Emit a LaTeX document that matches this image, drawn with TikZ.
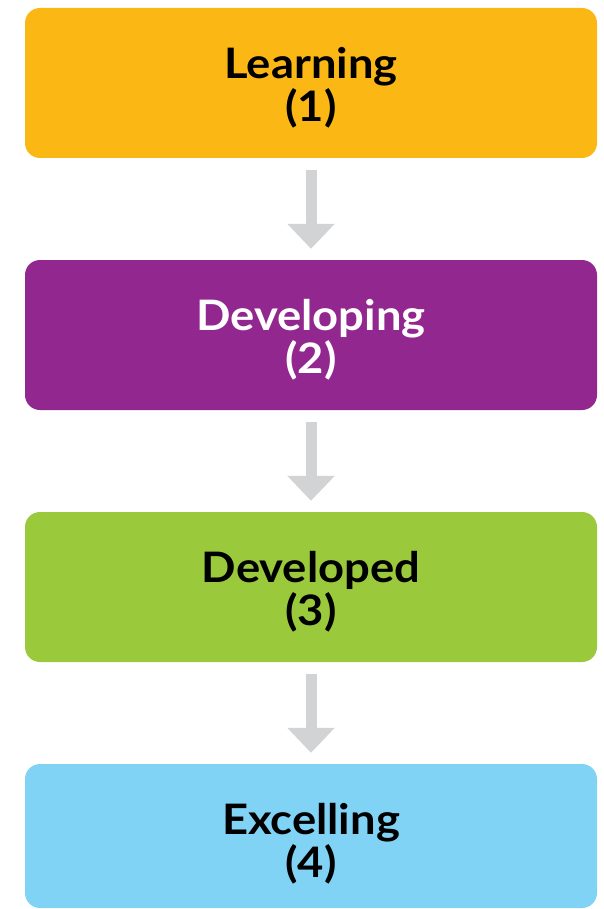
\documentclass[tikz,border=0pt]{standalone}
\usepackage{fontspec}
\setmainfont{Lato}[FakeStretch=1.08]
\usetikzlibrary{arrows.meta}
\definecolor{cyellow}{HTML}{FBB814}
\definecolor{cpurple}{HTML}{92278F}
\definecolor{cgreen}{HTML}{9BC93C}
\definecolor{cblue}{HTML}{81D3F6}
\definecolor{carrow}{HTML}{D1D3D4}
\begin{document}
\begin{tikzpicture}[x=1pt,y=-1pt,
  stage/.style={rectangle, rounded corners=15pt, minimum width=572pt, minimum height=150pt,
    inner sep=0pt},
  stagetext/.style={inner sep=0pt, align=center, yshift=-4.5pt,
    font=\fontsize{42}{43}\selectfont\bfseries},
  flowarrow/.style={draw=carrow, line width=11pt, shorten <=12pt, shorten >=11pt,
    -{Triangle[width=46pt,length=25pt]}}]
\useasboundingbox (0,0) rectangle (604,909);
\node[stage, fill=cyellow] (s1) at (311,83) {};
\node[stage, fill=cpurple] (s2) at (311,335) {};
\node[stage, fill=cgreen] (s3) at (311,587) {};
\node[stage, fill=cblue, minimum height=144pt] (s4) at (311,836) {};
\node[stagetext, text=black] (t1) at (s1.center) {Learning\\(1)};
\node[stagetext, text=white] (t2) at (s2.center) {Developing\\(2)};
\node[stagetext, text=black] (t3) at (s3.center) {Developed\\(3)};
\node[stagetext, text=black] (t4) at ([yshift=-3pt]s4.center) {Excelling\\(4)};
\draw[flowarrow] (s1.south) -- (s2.north);
\draw[flowarrow] (s2.south) -- (s3.north);
\draw[flowarrow] (s3.south) -- (s4.north);
\end{tikzpicture}
\end{document}
